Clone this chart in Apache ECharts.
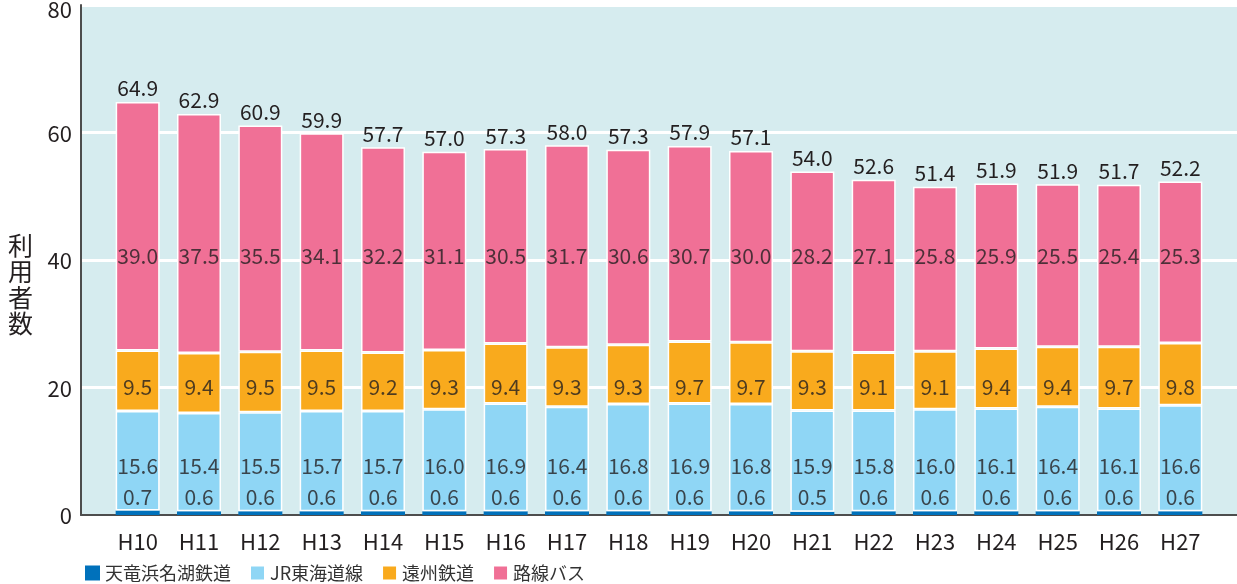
<!DOCTYPE html>
<html>
<head>
<meta charset="utf-8">
<script src="https://cdn.jsdelivr.net/npm/echarts@6/dist/echarts.min.js"></script>
<style>
  html, body { margin: 0; padding: 0; background: #fff; }
  #chart { width: 1237px; height: 584px; }
</style>
</head>
<body>
<div id="chart"></div>
<script>
const years = ["H10", "H11", "H12", "H13", "H14", "H15", "H16", "H17", "H18", "H19", "H20", "H21", "H22", "H23", "H24", "H25", "H26", "H27"];
const tenhama = [0.7, 0.6, 0.6, 0.6, 0.6, 0.6, 0.6, 0.6, 0.6, 0.6, 0.6, 0.5, 0.6, 0.6, 0.6, 0.6, 0.6, 0.6];
const jrTokaido = [15.6, 15.4, 15.5, 15.7, 15.7, 16.0, 16.9, 16.4, 16.8, 16.9, 16.8, 15.9, 15.8, 16.0, 16.1, 16.4, 16.1, 16.6];
const enshu = [9.5, 9.4, 9.5, 9.5, 9.2, 9.3, 9.4, 9.3, 9.3, 9.7, 9.7, 9.3, 9.1, 9.1, 9.4, 9.4, 9.7, 9.8];
const bus = [39.0, 37.5, 35.5, 34.1, 32.2, 31.1, 30.5, 31.7, 30.6, 30.7, 30.0, 28.2, 27.1, 25.8, 25.9, 25.5, 25.4, 25.3];
const totals = [64.9, 62.9, 60.9, 59.9, 57.7, 57.0, 57.3, 58.0, 57.3, 57.9, 57.1, 54.0, 52.6, 51.4, 51.9, 51.9, 51.7, 52.2];
const yTicks = [0, 20, 40, 60, 80];

const seriesNames = ["天竜浜名湖鉄道", "JR東海道線", "遠州鉄道", "路線バス"];
const colors = ["#0071bb", "#8fd6f5", "#f9aa1d", "#f07096"];
const yName = "利\n用\n者\n数";

const font = "'Noto Sans CJK JP', 'Noto Sans', sans-serif";
const textColor = "#231f20";

// inner labels sit at a fixed height in the original, not centred in the segment
const labelRows = [
  { values: tenhama, at: 2.8 },
  { values: jrTokaido, at: 7.7 },
  { values: enshu, at: 20.1 },
  { values: bus, at: 40.6 },
];

const chart = echarts.init(document.getElementById("chart"));

const barSeries = [tenhama, jrTokaido, enshu, bus].map((vals, i) => ({
  name: seriesNames[i],
  type: "bar",
  stack: "total",
  xAxisIndex: 1,
  yAxisIndex: 1,
  barWidth: 44,
  data: vals,
  itemStyle: { color: colors[i], borderColor: "#fff", borderWidth: i === 0 ? 0 : 1.5 },
  label: i === 3 ? {
    show: true,
    position: "top",
    distance: 3,
    fontFamily: font,
    fontSize: 21,
    color: textColor,
    formatter: (p) => totals[p.dataIndex].toFixed(1),
  } : { show: false },
  animation: false,
}));

const labelSeries = labelRows.map((row) => ({
  type: "scatter",
  xAxisIndex: 1,
  yAxisIndex: 1,
  symbolSize: 1,
  itemStyle: { color: "rgba(0,0,0,0)" },
  silent: true,
  data: row.values.map((v, i) => [i, row.at]),
  label: {
    show: true,
    position: "inside",
    fontFamily: font,
    fontSize: 21,
    color: textColor,
    formatter: (p) => row.values[p.dataIndex].toFixed(1),
  },
  animation: false,
}));

const option = {
  animation: false,
  color: colors,
  grid: [
    { left: 81, right: 0, top: 5, bottom: 69, outerBoundsMode: "none", show: true, backgroundColor: "#d6ecef", borderWidth: 0 },
    { left: 107, right: 26, top: 5, bottom: 69, outerBoundsMode: "none" },
  ],
  // vertical axis title, upright characters stacked
  graphic: [
    {
      type: "text",
      left: 8,
      top: 232,
      style: { text: yName, fontFamily: font, fontSize: 25, lineHeight: 26, fill: textColor },
    },
  ],
  legend: {
    data: seriesNames,
    left: 80,
    bottom: -3,
    itemWidth: 15,
    itemHeight: 15,
    itemGap: 18,
    icon: "rect",
    textStyle: { fontFamily: font, fontSize: 18, color: "#333" },
  },
  xAxis: [
    {
      gridIndex: 0,
      type: "category",
      data: [],
      axisLine: { show: true, lineStyle: { color: "#4d4d4d", width: 2 } },
      axisTick: { show: false },
      axisLabel: { show: false },
    },
    {
      gridIndex: 1,
      type: "category",
      data: years,
      axisLine: { show: false },
      axisTick: { show: false },
      axisLabel: { fontFamily: font, fontSize: 22, color: textColor, margin: 16 },
    },
  ],
  yAxis: [
    {
      gridIndex: 0,
      type: "value",
      min: yTicks[0],
      max: yTicks[yTicks.length - 1],
      interval: yTicks[1] - yTicks[0],
      axisLine: { show: true, lineStyle: { color: "#4d4d4d", width: 2 } },
      axisTick: { show: false },
      axisLabel: {
        fontFamily: font,
        fontSize: 22,
        color: textColor,
        margin: 9,
        formatter: (v) => (v === yTicks[yTicks.length - 1] ? "{top|" + v + "}" : "{n|" + v + "}"),
        rich: {
          top: { fontFamily: font, fontSize: 22, color: textColor, padding: [10, 0, 0, 0] },
          n: { fontFamily: font, fontSize: 22, color: textColor, padding: [2, 0, 0, 0] },
        },
      },
      splitLine: { show: true, lineStyle: { color: "#fff", width: 3 } },
    },
    {
      gridIndex: 1,
      type: "value",
      min: yTicks[0],
      max: yTicks[yTicks.length - 1],
      show: false,
      splitLine: { show: false },
    },
  ],
  series: barSeries.concat(labelSeries),
};

chart.setOption(option);
</script>
</body>
</html>
